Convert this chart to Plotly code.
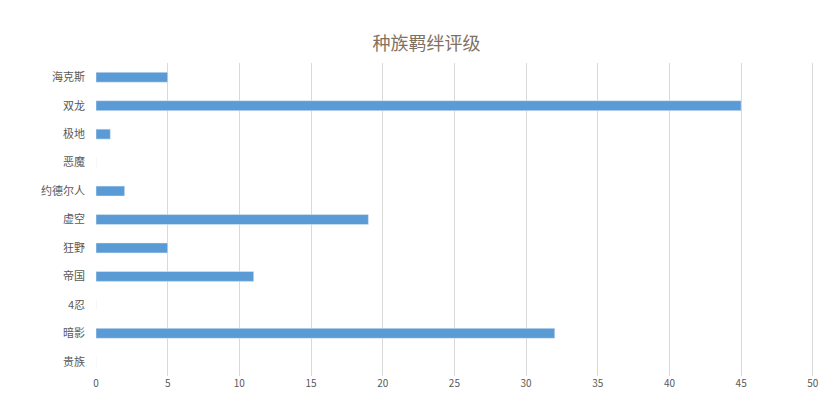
import plotly.graph_objects as go

categories = ["海克斯", "双龙", "极地", "恶魔", "约德尔人", "虚空", "狂野", "帝国", "4忍", "暗影", "贵族"]
values = [5, 45, 1, 0, 2, 19, 5, 11, 0, 32, 0]
x_ticks = [0, 5, 10, 15, 20, 25, 30, 35, 40, 45, 50]

fig = go.Figure(go.Bar(y=categories, x=values, orientation="h",
                       marker_color="#5B9BD5", width=0.35))
fig.update_layout(
    width=837, height=418,
    paper_bgcolor="white", plot_bgcolor="white",
    margin=dict(l=88, r=25, t=55, b=50),
    title=dict(text="种族羁绊评级", x=0.5, y=0.93, yref="container", xanchor="center",
               font=dict(family="Noto Sans CJK SC", size=18, color="#7f7160")),
    font=dict(family="Noto Sans CJK SC", size=11, color="#595959"),
    showlegend=False,
)
fig.update_xaxes(range=[0, 50.5], tickvals=x_ticks, showgrid=True, gridcolor="#d9d9d9",
                 zeroline=False, showline=False, ticks="", tickfont=dict(size=10),
                 automargin=False)
fig.update_yaxes(autorange="reversed", showgrid=False, showline=False, ticks="",
                 ticklabelstandoff=10, tickfont=dict(size=11), automargin=False)
fig.write_html("out.html")
